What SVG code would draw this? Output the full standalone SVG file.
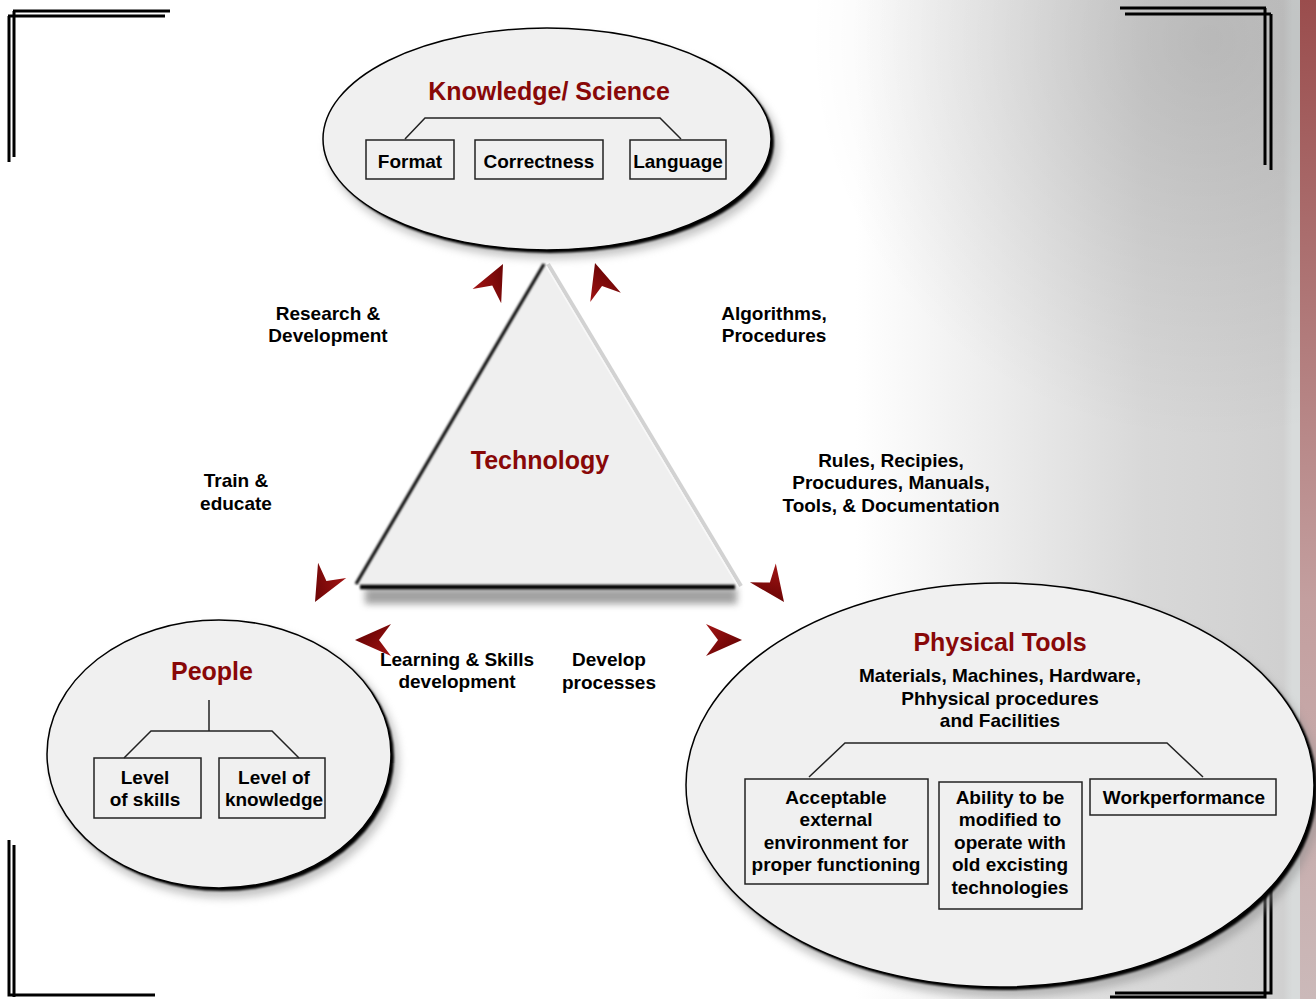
<svg xmlns="http://www.w3.org/2000/svg" width="1316" height="999" viewBox="0 0 1316 999">
<defs>
<linearGradient id="bg" x1="0" y1="0" x2="1316" y2="0" gradientUnits="userSpaceOnUse">
<stop offset="0" stop-color="#ffffff"/>
<stop offset="0.65" stop-color="#ffffff"/>
<stop offset="0.76" stop-color="#ececec"/>
<stop offset="0.87" stop-color="#d8d8d8"/>
<stop offset="0.975" stop-color="#d0d0d0"/>
<stop offset="0.982" stop-color="#d8dbdb"/>
<stop offset="0.988" stop-color="#d8dbdb"/>
</linearGradient>
<radialGradient id="dark" cx="1210" cy="40" r="400" gradientUnits="userSpaceOnUse">
<stop offset="0" stop-color="#000" stop-opacity="0.13"/>
<stop offset="0.6" stop-color="#000" stop-opacity="0.05"/>
<stop offset="1" stop-color="#000" stop-opacity="0"/>
</radialGradient>
<linearGradient id="strip" x1="0" y1="0" x2="0" y2="999" gradientUnits="userSpaceOnUse">
<stop offset="0" stop-color="#9a4d4d"/>
<stop offset="0.6" stop-color="#c39f9f"/>
<stop offset="1" stop-color="#cbb9b9"/>
</linearGradient>
<linearGradient id="arrowFill" x1="0" y1="0" x2="1" y2="1">
<stop offset="0" stop-color="#a31414"/>
<stop offset="1" stop-color="#5a0000"/>
</linearGradient>
<filter id="blur4" x="-20%" y="-20%" width="140%" height="140%"><feGaussianBlur stdDeviation="4"/></filter>
<filter id="blur1" filterUnits="userSpaceOnUse" x="0" y="0" width="1316" height="999"><feGaussianBlur stdDeviation="1.2"/></filter>
<filter id="blur2" filterUnits="userSpaceOnUse" x="0" y="0" width="1316" height="999"><feGaussianBlur stdDeviation="3.5"/></filter>
<path id="ah" d="M0,0 L-36,-16 L-24,0 L-36,16 Z"/>
<style>
.t{font-family:"Liberation Sans",Arial,sans-serif;font-weight:bold;font-size:19px;fill:#000;text-anchor:middle}
.title{font-family:"Liberation Sans",Arial,sans-serif;font-weight:bold;font-size:25px;fill:#880808;text-anchor:middle}
.box{fill:none;stroke:#222;stroke-width:1.5}
.br{fill:none;stroke:#222;stroke-width:1.5}
.corner{fill:none;stroke:#000;stroke-width:3}
.fillE{fill:#f0f0f0;stroke:#000;stroke-width:1.5}
.shadow{fill:#8a8a8a;opacity:0.5}
.ahead{fill:url(#arrowFill)}
</style>
</defs>

<g id="background">
<rect x="0" y="0" width="1316" height="999" fill="url(#bg)"/>
<rect x="0" y="0" width="1300" height="999" fill="url(#dark)"/>
<rect x="1300" y="0" width="16" height="999" fill="url(#strip)"/>
</g>

<g id="corners">
<path class="corner" d="M13,11 H170 M14,11 V157"/>
<path class="corner" d="M8,16 H165 M9,16 V162"/>
<path class="corner" d="M1120,8 H1266 M1265,8 V165"/>
<path class="corner" d="M1125,14 H1271 M1271,14 V170"/>
<path class="corner" d="M9,840 V995 H12 M14,845 V997 M12,995 H155"/>
<path class="corner" d="M1265,840 V997 H1110 M1271,840 V993 H1115"/>
</g>

<g id="knowledge">
<ellipse class="shadow" cx="553" cy="147" rx="226" ry="112" filter="url(#blur4)"/>
<ellipse cx="550" cy="142" rx="224" ry="111" fill="#000" filter="url(#blur1)"/>
<ellipse class="fillE" cx="547" cy="139" rx="224" ry="111"/>
<text class="title" x="549" y="100">Knowledge/ Science</text>
<path class="br" d="M405,139 L425,118 H660 L681,139"/>
<rect class="box" x="366" y="140" width="88" height="39"/>
<text class="t" x="410" y="168">Format</text>
<rect class="box" x="475" y="140" width="128" height="39"/>
<text class="t" x="539" y="168">Correctness</text>
<rect class="box" x="630" y="140" width="96" height="39"/>
<text class="t" x="678" y="168">Language</text>
</g>

<g id="technology">
<rect x="365" y="588" width="372" height="16" fill="#555" opacity="0.55" filter="url(#blur2)"/>
<polygon points="545,262 356,585 737,585" fill="#efefef"/>
<line x1="548" y1="264" x2="741" y2="586" stroke="#d2d2d2" stroke-width="4"/>
<line x1="546" y1="266" x2="737" y2="585" stroke="#f8f8f8" stroke-width="1.5"/>
<line x1="544" y1="264" x2="356" y2="584" stroke="#000" stroke-width="3" filter="url(#blur1)"/>
<line x1="360" y1="587" x2="735" y2="587" stroke="#000" stroke-width="4.5" filter="url(#blur1)"/>
<text class="title" x="540" y="469">Technology</text>
</g>

<g id="people">
<ellipse class="shadow" cx="225" cy="762" rx="174" ry="136" filter="url(#blur4)"/>
<ellipse cx="222" cy="757" rx="172" ry="134" fill="#000" filter="url(#blur1)"/>
<ellipse class="fillE" cx="219" cy="754" rx="172" ry="134"/>
<text class="title" x="212" y="680">People</text>
<path class="br" d="M209,700 V731 M124,758 L151,731 H272 L299,758"/>
<rect class="box" x="94" y="758" width="107" height="60"/>
<text class="t" x="145" y="784">Level</text>
<text class="t" x="145" y="806">of skills</text>
<rect class="box" x="219" y="758" width="106" height="60"/>
<text class="t" x="274" y="784">Level of</text>
<text class="t" x="274" y="806">knowledge</text>
</g>

<g id="physical-tools">
<ellipse class="shadow" cx="1006" cy="794" rx="316" ry="204" filter="url(#blur4)"/>
<ellipse cx="1003" cy="788" rx="314" ry="202" fill="#000" filter="url(#blur1)"/>
<ellipse class="fillE" cx="1000" cy="785" rx="314" ry="202"/>
<text class="title" x="1000" y="651">Physical Tools</text>
<text class="t" x="1000" y="682">Materials, Machines, Hardware,</text>
<text class="t" x="1000" y="705">Phhysical procedures</text>
<text class="t" x="1000" y="727">and Facilities</text>
<path class="br" d="M809,777 L845,743 H1167 L1203,777"/>
<rect class="box" x="745" y="779" width="183" height="105"/>
<text class="t" x="836" y="804">Acceptable</text>
<text class="t" x="836" y="826">external</text>
<text class="t" x="836" y="849">environment for</text>
<text class="t" x="836" y="871">proper functioning</text>
<rect class="box" x="939" y="782" width="143" height="127"/>
<text class="t" x="1010" y="804">Ability to be</text>
<text class="t" x="1010" y="826">modified to</text>
<text class="t" x="1010" y="849">operate with</text>
<text class="t" x="1010" y="871">old excisting</text>
<text class="t" x="1010" y="894">technologies</text>
<rect class="box" x="1090" y="779" width="186" height="36"/>
<text class="t" x="1184" y="804">Workperformance</text>
</g>

<g id="connectors">
<use href="#ah" class="ahead" transform="translate(503,264) rotate(-63.4)"/>
<use href="#ah" class="ahead" transform="translate(595,263) rotate(-107)"/>
<use href="#ah" class="ahead" transform="translate(315,602) rotate(118.4)"/>
<use href="#ah" class="ahead" transform="translate(355,640) rotate(180)"/>
<use href="#ah" class="ahead" transform="translate(784,602) rotate(54)"/>
<use href="#ah" class="ahead" transform="translate(742,640)"/>
<text class="t" x="328" y="320">Research &amp;</text>
<text class="t" x="328" y="342">Development</text>
<text class="t" x="774" y="320">Algorithms,</text>
<text class="t" x="774" y="342">Procedures</text>
<text class="t" x="236" y="487">Train &amp;</text>
<text class="t" x="236" y="510">educate</text>
<text class="t" x="891" y="467">Rules, Recipies,</text>
<text class="t" x="891" y="489">Procudures, Manuals,</text>
<text class="t" x="891" y="512">Tools, &amp; Documentation</text>
<text class="t" x="457" y="666">Learning &amp; Skills</text>
<text class="t" x="457" y="688">development</text>
<text class="t" x="609" y="666">Develop</text>
<text class="t" x="609" y="689">processes</text>
</g>
</svg>
